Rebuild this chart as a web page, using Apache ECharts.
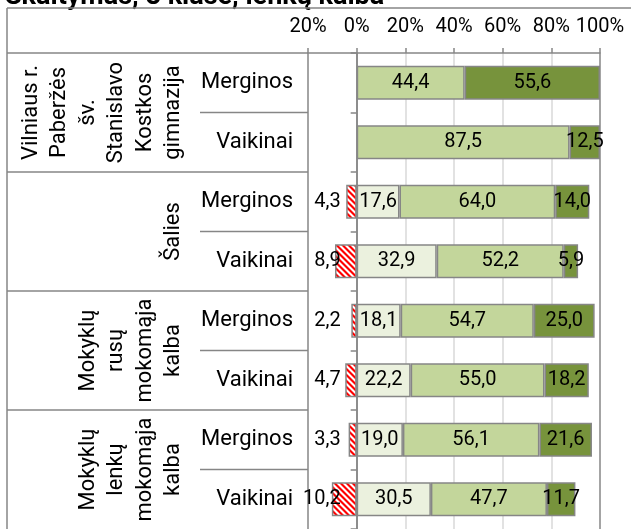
<!DOCTYPE html>
<html><head><meta charset="utf-8">
<script src="https://cdn.jsdelivr.net/npm/echarts@6/dist/echarts.min.js"></script>
<style>html,body{margin:0;padding:0;background:#fff}#c{width:631px;height:529px}</style>
</head><body><div id="c"></div>
<script>
const titleText = 'Skaitymas, 8 klasė, lenkų kalba';
const groups = [
  'Vilniaus r.\nPaberžės\nšv.\nStanislavo\nKostkos\ngimnazija',
  'Šalies',
  'Mokyklų\nrusų\nmokomąja\nkalba',
  'Mokyklų\nlenkų\nmokomąja\nkalba'
];
const categories = ['Merginos','Vaikinai','Merginos','Vaikinai','Merginos','Vaikinai','Merginos','Vaikinai'];
const belowLevel = [null, null, -4.3, -8.9, -2.2, -4.7, -3.3, -10.2];
const level1 = [null, null, 17.6, 32.9, 18.1, 22.2, 19.0, 30.5];
const level2 = [44.4, 87.5, 64.0, 52.2, 54.7, 55.0, 56.1, 47.7];
const level3 = [55.6, 12.5, 14.0, 5.9, 25.0, 18.2, 21.6, 11.7];
const axisMin = -20, axisMax = 100, axisStep = 20;

const FONT = 'Roboto';
const GREY = '#868686';

function stripes() {
  const s = 12;
  const c = document.createElement('canvas');
  c.width = s; c.height = s;
  const g = c.getContext('2d');
  g.fillStyle = '#ffffff'; g.fillRect(0, 0, s, s);
  g.fillStyle = '#ff0000';
  for (let k = -2; k <= 4; k++) {
    const o = k * 6;
    g.beginPath();
    g.moveTo(o, 0); g.lineTo(o + 3, 0); g.lineTo(o + 3 + s, s); g.lineTo(o + s, s);
    g.closePath(); g.fill();
  }
  return c;
}

const fmt = p => (p.value == null || p.value === 0) ? '' : Math.abs(p.value).toFixed(1).replace('.', ',');
const border = { borderColor: GREY, borderWidth: 1.5 };
const lbl = { show: true, position: 'inside', color: '#000', fontFamily: FONT, fontSize: 20, formatter: fmt };

const chart = echarts.init(document.getElementById('c'), null, { renderer: 'canvas' });
chart.setOption({
  animation: false,
  textStyle: { fontFamily: FONT },
  grid: { left: 308, right: 31, top: 53, height: 478, containLabel: false },
  xAxis: {
    type: 'value', position: 'top', min: axisMin, max: axisMax, interval: axisStep,
    axisLine: { show: true, lineStyle: { color: GREY, width: 1.5 } },
    axisTick: { show: true, length: 5, lineStyle: { color: GREY, width: 1.5 } },
    axisLabel: { color: '#000', fontSize: 20, fontFamily: FONT, margin: 16, formatter: v => Math.abs(v) + '%' },
    splitLine: { show: true, lineStyle: { color: [GREY, GREY, '#d9d9d9', '#d9d9d9', '#d9d9d9', '#d9d9d9', GREY], width: 1.5 } }
  },
  yAxis: {
    type: 'category', inverse: true, data: categories,
    axisLine: { show: true, onZero: true, lineStyle: { color: GREY, width: 1.5 } },
    axisTick: { show: true, length: 6, lineStyle: { color: GREY, width: 1.5 } },
    axisLabel: { color: '#000', fontSize: 22, fontFamily: FONT, margin: 15 }
  },
  series: [
    { name: 'below', type: 'bar', stack: 's', barWidth: 34, data: belowLevel,
      itemStyle: Object.assign({ color: { image: stripes(), repeat: 'repeat' } }, border),
      label: Object.assign({}, lbl, { position: 'insideRight', distance: 16 }) },
    { name: 'l1', type: 'bar', stack: 's', barWidth: 34, data: level1,
      itemStyle: Object.assign({ color: '#EBF1DE' }, border), label: lbl },
    { name: 'l2', type: 'bar', stack: 's', barWidth: 34, data: level2,
      itemStyle: Object.assign({ color: '#C3D69B' }, border), label: lbl },
    { name: 'l3', type: 'bar', stack: 's', barWidth: 34, data: level3,
      itemStyle: Object.assign({ color: '#77933C' }, border), label: lbl }
  ]
});

const centers = categories.map((c, i) => chart.convertToPixel({ yAxisIndex: 0 }, i));
const band = centers[1] - centers[0];
const gridTop = centers[0] - band / 2;
const gridBottom = centers[centers.length - 1] + band / 2;
const xNeg = chart.convertToPixel({ xAxisIndex: 0 }, axisMin);
const leftX = 7, subX = 200, topY = 8;
const els = [];
const addLine = (x1, y1, x2, y2) => els.push({ type: 'line', silent: true, z: 10,
  shape: { x1, y1, x2, y2 }, style: { stroke: GREY, lineWidth: 1.5 } });
addLine(leftX, topY, 631, topY);
addLine(leftX, topY, leftX, gridBottom + 2);
addLine(leftX, gridTop, xNeg, gridTop);
for (let i = 1; i < centers.length; i++) {
  const y = (centers[i - 1] + centers[i]) / 2;
  addLine(i % 2 === 0 ? leftX : subX, y, xNeg, y);
}
groups.forEach((g, k) => {
  const cy = (centers[2 * k] + centers[2 * k + 1]) / 2;
  els.push({ type: 'text', silent: true, x: 188, y: cy, rotation: Math.PI / 2,
    style: { text: g, fontFamily: FONT, fontSize: 22, lineHeight: 28.5, fill: '#000',
      align: 'center', verticalAlign: 'bottom' } });
});
els.push({ type: 'text', silent: true, x: 5, y: -3,
  style: { text: titleText, fontFamily: FONT, fontWeight: 'bold', fontSize: 27, fill: '#000',
    align: 'left', verticalAlign: 'middle' } });
chart.setOption({ graphic: els });
</script>
</body></html>
